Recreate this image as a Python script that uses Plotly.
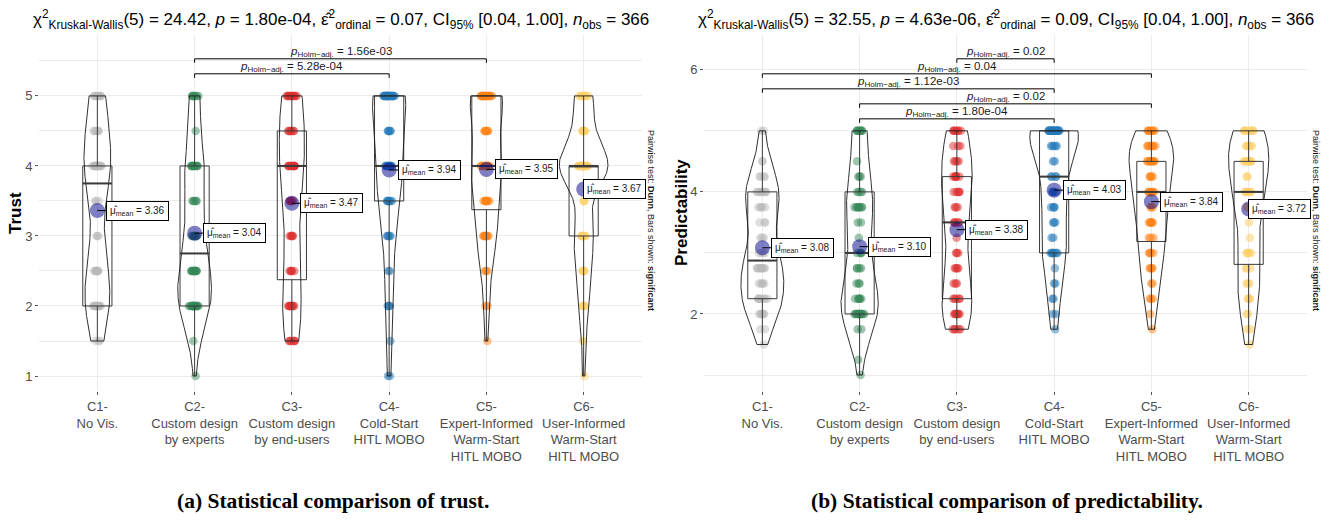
import numpy as np
import plotly.graph_objects as go

W, H = 1329, 521
FONT = "Liberation Sans, Arial, sans-serif"

CATEGORIES = [
    "C1-<br>No Vis.",
    "C2-<br>Custom design<br>by experts",
    "C3-<br>Custom design<br>by end-users",
    "C4-<br>Cold-Start<br>HITL MOBO",
    "C5-<br>Expert-Informed<br>Warm-Start<br>HITL MOBO",
    "C6-<br>User-Informed<br>Warm-Start<br>HITL MOBO",
]
COLORS = ["rgba(185,185,185,0.45)", "rgba(52,135,88,0.48)", "rgba(222,45,45,0.5)",
          "rgba(35,122,185,0.5)", "rgba(255,130,20,0.5)", "rgba(253,208,105,0.55)"]

# Trust ratings (0.5 steps): number of participants at each level per condition
TRUST_LEVELS = [1.0, 1.5, 2.0, 2.5, 3.0, 3.5, 4.0, 4.5, 5.0]
TRUST_C1 = [0, 3, 13, 9, 3, 3, 16, 6, 9]
TRUST_C2 = [1, 1, 17, 12, 7, 5, 11, 1, 7]
TRUST_C3 = [0, 6, 9, 5, 5, 5, 12, 7, 12]
TRUST_C4 = [2, 1, 4, 2, 5, 7, 13, 5, 22]
TRUST_C5 = [0, 1, 2, 3, 9, 8, 14, 6, 18]
TRUST_C6 = [1, 1, 4, 5, 8, 3, 23, 6, 8]

# Predictability ratings (0.25 steps)
PRED_LEVELS = [1.0, 1.25, 1.5, 1.75, 2.0, 2.25, 2.5, 2.75, 3.0, 3.25, 3.5, 3.75,
               4.0, 4.25, 4.5, 4.75, 5.0]
PRED_C1 = [0, 0, 1, 2, 6, 8, 5, 9, 4, 3, 3, 5, 8, 4, 2, 0, 2]
PRED_C2 = [1, 1, 0, 2, 13, 6, 3, 4, 4, 1, 2, 8, 4, 3, 1, 0, 8]
PRED_C3 = [0, 0, 0, 5, 7, 5, 3, 4, 3, 1, 5, 3, 5, 6, 4, 3, 7]
PRED_C4 = [0, 0, 0, 1, 2, 2, 2, 1, 8, 2, 3, 4, 4, 4, 2, 5, 22]
PRED_C5 = [0, 0, 0, 1, 1, 3, 2, 4, 4, 3, 6, 3, 7, 4, 9, 7, 7]
PRED_C6 = [0, 0, 1, 2, 2, 4, 3, 3, 5, 1, 1, 6, 6, 2, 9, 6, 8]

# Pairwise comparisons shown (group indices, 1-based) and their p-values
PAIRS_A = [(2, 5), (2, 4)]
PVALS_A = ["1.56e-03", "5.28e-04"]
PAIRS_B = [(3, 4), (1, 5), (1, 4), (2, 5), (2, 4)]
PVALS_B = ["0.02", "0.04", "1.12e-03", "0.02", "1.80e-04"]

TITLE_A = ("χ<sup>2</sup><sub>Kruskal-Wallis</sub>(5) = 24.42, <i>p</i> = 1.80e-04, "
           "ε̂<sup>2</sup><sub>ordinal</sub> = 0.07, CI<sub>95%</sub> [0.04, 1.00], "
           "<i>n</i><sub>obs</sub> = 366")
TITLE_B = ("χ<sup>2</sup><sub>Kruskal-Wallis</sub>(5) = 32.55, <i>p</i> = 4.63e-06, "
           "ε̂<sup>2</sup><sub>ordinal</sub> = 0.09, CI<sub>95%</sub> [0.04, 1.00], "
           "<i>n</i><sub>obs</sub> = 366")
CAPTION_A = "(a) Statistical comparison of trust."
CAPTION_B = "(b) Statistical comparison of predictability."


def expand(levels, counts):
    return np.repeat(np.array(levels, dtype=float), counts)


def bw_nrd0(x):
    sd = np.std(x, ddof=1)
    q75, q25 = np.percentile(x, [75, 25])
    lo = min(sd, (q75 - q25) / 1.34)
    if lo <= 0:
        lo = sd
    return 0.9 * lo * len(x) ** -0.2


def kde_curve(x, bw, n=512):
    grid = np.linspace(x.min(), x.max(), n)
    d = np.exp(-0.5 * ((grid[:, None] - x[None, :]) / bw) ** 2).sum(1)
    return grid, d / (len(x) * bw * np.sqrt(2 * np.pi))


trust = [expand(TRUST_LEVELS, c) for c in (TRUST_C1, TRUST_C2, TRUST_C3, TRUST_C4, TRUST_C5, TRUST_C6)]
pred = [expand(PRED_LEVELS, c) for c in (PRED_C1, PRED_C2, PRED_C3, PRED_C4, PRED_C5, PRED_C6)]

fig = go.Figure()

PA = (39, 642)
PB = (704, 1307)
PY = (35, 391)
LABEL_OFFSET = [40, 40, 40, 40, 40, 31]


def add_panel(data, xa, ya, ppu, bracket_top, pairs, pvals):
    # jittered raw points (drawn first, underneath)
    for i, vals in enumerate(data):
        fig.add_trace(go.Box(
            x=[i + 1] * len(vals), y=vals, xaxis=xa, yaxis=ya, width=0.3,
            boxpoints="all", jitter=0.4, pointpos=0,
            marker=dict(color=COLORS[i], size=8.5, line=dict(width=0)),
            line=dict(color="rgba(0,0,0,0)", width=0), fillcolor="rgba(0,0,0,0)",
            showlegend=False, hoverinfo="skip"))
    # boxes
    for i, vals in enumerate(data):
        fig.add_trace(go.Box(
            x=[i + 1] * len(vals), y=vals, xaxis=xa, yaxis=ya, width=0.3,
            boxpoints=False, whiskerwidth=0, quartilemethod="linear",
            line=dict(color="#3a3a3a", width=1), fillcolor="rgba(0,0,0,0)",
            showlegend=False, hoverinfo="skip"))
    # violins: gaussian KDE (bw.nrd0), trimmed to data range, area-scaled
    curves = [kde_curve(v, bw_nrd0(v)) for v in data]
    dmax = max(d.max() for _, d in curves)
    for i, (grid, d) in enumerate(curves):
        pos = i + 1
        half = 0.25 * d / dmax
        xs = np.concatenate([pos + half, (pos - half)[::-1], [pos + half[0]]])
        ys = np.concatenate([grid, grid[::-1], [grid[0]]])
        fig.add_trace(go.Scatter(
            x=xs, y=ys, xaxis=xa, yaxis=ya, mode="lines",
            line=dict(color="#1a1a1a", width=0.9), showlegend=False,
            hoverinfo="skip"))
    # medians, means, labels
    for i, vals in enumerate(data):
        pos = i + 1
        med = float(np.median(vals))
        fig.add_trace(go.Scatter(
            x=[pos - 0.15, pos + 0.15], y=[med, med], xaxis=xa, yaxis=ya,
            mode="lines", line=dict(color="#3a3a3a", width=2),
            showlegend=False, hoverinfo="skip"))
        m = float(np.mean(vals))
        fig.add_trace(go.Scatter(
            x=[pos], y=[m], xaxis=xa, yaxis=ya, mode="markers",
            marker=dict(color="rgba(0,0,139,0.5)", size=15, line=dict(width=0)),
            showlegend=False, hoverinfo="skip"))
        fig.add_annotation(
            x=pos, y=m, xref=xa, yref=ya, ax=LABEL_OFFSET[i], ay=0,
            text=f"μ̂<sub>mean</sub> = {m:.2f}", showarrow=True, arrowhead=0,
            arrowwidth=1, arrowcolor="black", bgcolor="white",
            bordercolor="black", borderwidth=1, borderpad=3,
            font=dict(family=FONT, size=10, color="#1a1a1a"))
    # significance brackets
    step = 15 / ppu
    tip = 4 / ppu
    for k, ((a, b), pv) in enumerate(zip(pairs, pvals)):
        yb = bracket_top - k * step
        fig.add_trace(go.Scatter(
            x=[a, a, b, b], y=[yb - tip, yb, yb, yb - tip], xaxis=xa, yaxis=ya,
            mode="lines", line=dict(color="black", width=1),
            showlegend=False, hoverinfo="skip"))
        fig.add_annotation(
            x=(a + b) / 2, y=yb, xref=xa, yref=ya, yanchor="bottom",
            showarrow=False, yshift=-2,
            text=f"<i>p</i><sub>Holm−adj.</sub> = {pv}",
            font=dict(family=FONT, size=11.5, color="#1a1a1a"))


add_panel(trust, "x", "y", 70, 5.53, PAIRS_A, PVALS_A)
add_panel(pred, "x2", "y2", 61, 6.18, PAIRS_B, PVALS_B)

grid = "#EBEBEB"
xcommon = dict(range=[0.4, 6.6], tickvals=list(range(1, 7)), ticktext=CATEGORIES,
               showgrid=True, gridcolor=grid, gridwidth=1, zeroline=False,
               showline=False, ticks="outside", ticklen=3, tickcolor="#555",
               tickfont=dict(family=FONT, size=13, color="#4D4D4D"))
ycommon = dict(showgrid=True, gridcolor=grid, gridwidth=1, zeroline=False,
               showline=False, ticks="outside", ticklen=3, tickcolor="#555",
               tickfont=dict(family=FONT, size=13, color="#4D4D4D"))
ydom = [1 - PY[1] / H, 1 - PY[0] / H]
fig.update_layout(
    width=W, height=H, margin=dict(l=0, r=0, t=0, b=0),
    paper_bgcolor="white", plot_bgcolor="white", showlegend=False,
    boxmode="overlay",
    xaxis=dict(domain=[PA[0] / W, PA[1] / W], anchor="y", **xcommon),
    xaxis2=dict(domain=[PB[0] / W, PB[1] / W], anchor="y2", **xcommon),
    yaxis=dict(domain=ydom, anchor="x", range=[0.786, 5.87], tick0=1, dtick=1,
               minor=dict(dtick=0.5, showgrid=True, gridcolor=grid), **ycommon),
    yaxis2=dict(domain=ydom, anchor="x2", range=[0.738, 6.57], tick0=0, dtick=2,
                minor=dict(dtick=1, showgrid=True, gridcolor=grid), **ycommon),
)

for cx, t in (((PA[0] + PA[1]) / 2, TITLE_A), ((PB[0] + PB[1]) / 2, TITLE_B)):
    fig.add_annotation(x=cx / W, y=1 - 19 / H, xref="paper", yref="paper",
                       text=t, showarrow=False, xanchor="center", yanchor="middle",
                       font=dict(family=FONT, size=17, color="black"))
for cx, t in ((15, "Trust"), (681, "Predictability")):
    fig.add_annotation(x=cx / W, y=1 - 213 / H, xref="paper", yref="paper",
                       text=f"<b>{t}</b>", showarrow=False, textangle=-90,
                       xanchor="center", yanchor="middle",
                       font=dict(family=FONT, size=17, color="black"))
for cx in (651, 1316):
    fig.add_annotation(x=cx / W, y=1 - 220 / H, xref="paper", yref="paper",
                       text="Pairwise test: <b>Dunn</b>, Bars shown: <b>significant</b>",
                       showarrow=False, textangle=90, xanchor="center", yanchor="middle",
                       font=dict(family=FONT, size=9, color="#1a1a1a"))
for cx, t in ((333, CAPTION_A), (1007, CAPTION_B)):
    fig.add_annotation(x=cx / W, y=1 - 501 / H, xref="paper", yref="paper",
                       text=f"<b>{t}</b>", showarrow=False, xanchor="center",
                       yanchor="middle",
                       font=dict(family="Liberation Serif, Times New Roman, serif",
                                 size=21.5, color="black"))

fig.write_html("out.html")
